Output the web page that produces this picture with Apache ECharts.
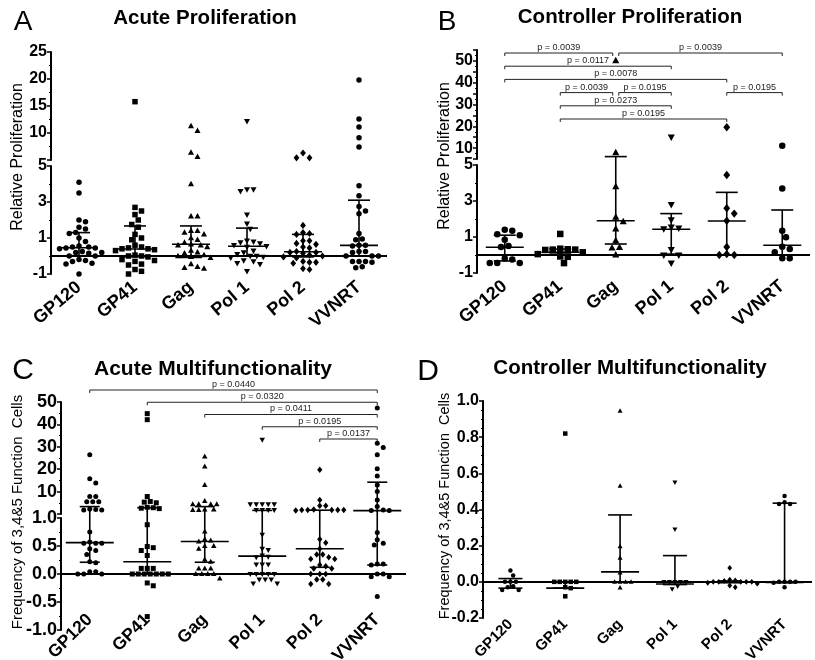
<!DOCTYPE html>
<html>
<head>
<meta charset="utf-8">
<script src="https://cdn.jsdelivr.net/npm/echarts@6/dist/echarts.min.js"></script>
<style>
html,body{margin:0;padding:0;background:#fff}
#chart{width:815px;height:660px}
</style>
</head>
<body>
<div id="chart"></div>
<script>
var FONT = '"Liberation Sans", Arial, Helvetica, sans-serif';
var cats = ['GP120', 'GP41', 'Gag', 'Pol 1', 'Pol 2', 'VVNRT'];
var shapes = ['circle', 'square', 'triangle', 'triangleDown', 'diamond', 'circle'];

// A  Acute Proliferation
var aGP120 = [4.1, 3.5, 2.0, 1.9, 1.6, 1.5, 1.3, 1.25, 1.0, 0.8, 0.55, 0.5, 0.5, 0.45, 0.45, 0.4, 0.25, 0.2, 0.2, 0.15, 0.0, 0.0, -0.2, -0.25, -0.3, -0.4, -0.45, -1.0];
var aGP41 = [15.8, 2.7, 2.5, 2.3, 2.0, 1.75, 1.6, 1.2, 1.0, 0.9, 0.6, 0.5, 0.45, 0.4, 0.4, 0.35, 0.3, 0.05, 0.0, 0.0, -0.05, -0.2, -0.25, -0.3, -0.45, -0.5, -0.75, -0.85, -1.0];
var aGag = [11.3, 10.4, 6.4, 5.6, 4.0, 2.2, 2.2, 1.4, 1.4, 1.3, 1.2, 1.0, 0.9, 0.75, 0.65, 0.6, 0.6, 0.5, 0.3, 0.2, 0.15, 0.05, 0.0, -0.05, -0.1, -0.45, -0.6, -0.65, -0.7];
var aPol1 = [12.2, 3.7, 3.6, 3.7, 2.3, 1.8, 1.5, 0.85, 0.8, 0.75, 0.7, 0.6, 0.55, 0.5, 0.3, 0.2, 0.1, 0.0, 0.0, -0.05, -0.1, -0.25, -0.3, -0.4, -0.45, -0.85];
var aPol2 = [6.3, 5.4, 5.4, 1.7, 1.3, 1.25, 1.2, 0.85, 0.85, 0.7, 0.65, 0.5, 0.45, 0.25, 0.2, 0.2, 0.15, 0.05, 0.0, -0.05, -0.1, -0.3, -0.35, -0.35, -0.4, -0.7, -0.75];
var aVVNRT = [19.8, 12.6, 11.1, 9.1, 7.4, 3.9, 3.35, 2.75, 2.5, 2.35, 1.25, 0.95, 0.9, 0.6, 0.6, 0.55, 0.25, 0.25, 0.2, 0.0, 0.0, 0.0, -0.3, -0.3, -0.35, -0.3, -0.6, -0.65];
var aMed = [0.46, 0.39, 0.65, 0.54, 0.24, 0.59];
var aQ1 = [0.02, -0.04, -0.08, 0.0, -0.05, 0.0];
var aQ3 = [1.3, 1.67, 1.67, 1.55, 1.2, 3.1];

// B  Controller Proliferation
var bGP120 = [1.4, 1.35, 1.15, 1.1, 0.85, 0.5, 0.45, -0.2, -0.25, -0.45, -0.45, -0.45];
var bGP41 = [1.17, 0.35, 0.32, 0.3, 0.28, 0.3, 0.15, 0.05, -0.08, -0.1, -0.45];
var bGag = [50.1, 7.9, 3.8, 2.1, 1.85, 1.45, 0.8, 0.42, 0.4, 0.0];
var bPol1 = [15, 2.8, 1.95, 1.55, 1.5, 1.45, 0.3, 0.0, 0.0, -0.45];
var bPol2 = [19.6, 4.45, 2.6, 2.3, 1.9, 0.45, 0.05, 0.0, 0.0];
var bVVNRT = [11.1, 3.7, 1.35, 0.98, 0.46, 0.33, 0.15, -0.18, -0.18];
var bMed = [0.43, 0.15, 1.9, 1.43, 1.89, 0.54];
var bQ1 = [-0.33, 0.05, 0.61, 0.05, 0.0, 0.0];
var bQ3 = [1.1, 0.33, 6.1, 2.3, 3.48, 2.5];
var bFrom = [0, 2, 0, 0, 1, 2, 4, 1, 1];
var bTo = [2, 5, 3, 4, 2, 3, 5, 3, 4];
var bRow = [0, 0, 1, 2, 3, 3, 3, 4, 5];
var bP = ['p = 0.0039', 'p = 0.0039', 'p = 0.0117', 'p = 0.0078', 'p = 0.0039', 'p = 0.0195', 'p = 0.0195', 'p = 0.0273', 'p = 0.0195'];

// C  Acute Multifunctionality
var cGP120 = [26.4, 15.7, 13.8, 7.8, 7.8, 5.5, 5.5, 5.5, 2.2, 2.0, 1.8, 1.8, 0.75, 0.57, 0.55, 0.55, 0.55, 0.45, 0.42, 0.35, 0.22, 0.2, 0.04, 0.0, 0.0, 0.0, 0.04];
var cGP41 = [44.8, 42.1, 7.8, 5.6, 5.3, 5.0, 3.0, 2.8, 2.6, 2.4, 0.88, 0.49, 0.47, 0.42, 0.33, 0.1, 0.1, 0.1, 0.0, 0.0, 0.0, 0.0, 0.0, 0.0, 0.0, -0.16, -0.21, -0.76];
var cGag = [25.7, 21.2, 13.0, 5.8, 4.4, 4.4, 4.4, 4.4, 2.0, 1.8, 1.8, 2.0, 0.76, 0.62, 0.6, 0.58, 0.5, 0.5, 0.45, 0.26, 0.22, 0.1, 0.1, 0.1, 0.0, 0.0, 0.0, 0.0, -0.08];
var cPol1 = [33.1, 4.4, 4.4, 4.4, 4.4, 4.4, 1.8, 1.8, 1.8, 1.8, 0.7, 0.45, 0.43, 0.33, 0.31, 0.3, 0.17, 0.17, 0.17, 0.0, 0.0, 0.0, 0.0, 0.0, -0.1, -0.1, -0.1, -0.17, -0.17];
var cPol2 = [19.7, 6.3, 3.7, 3.7, 2.0, 1.8, 1.8, 1.8, 1.8, 1.8, 1.6, 0.62, 0.56, 0.45, 0.35, 0.35, 0.3, 0.27, 0.27, 0.16, 0.14, 0.1, 0.1, 0.0, 0.0, 0.0, -0.1, -0.1, -0.18, -0.18];
var cVVNRT = [47.3, 31.6, 29.7, 26.4, 20.2, 17.0, 13.0, 10.0, 6.3, 3.3, 1.8, 1.6, 1.6, 0.74, 0.61, 0.55, 0.52, 0.18, 0.18, 0.16, 0.0, 0.0, -0.05, -0.05, -0.4];
var cMed = [0.56, 0.22, 0.58, 0.32, 0.45, 1.5];
var cQ1 = [0.21, 0.0, 0.21, 0.0, 0.12, 0.16];
var cQ3 = [3.3, 2.8, 3.3, 1.6, 1.7, 14.2];
var cFrom = [0, 1, 2, 3, 4];
var cTo = [5, 5, 5, 5, 5];
var cRow = [0, 1, 2, 3, 4];
var cP = ['p = 0.0440', 'p = 0.0320', 'p = 0.0411', 'p = 0.0195', 'p = 0.0137'];

// D  Controller Multifunctionality
var dGP120 = [0.062, 0.035, 0.0, 0.0, 0.0, -0.025, -0.03, -0.045, -0.045];
var dGP41 = [0.82, 0.0, 0.0, 0.0, 0.0, 0.0, -0.03, -0.035, -0.08];
var dGag = [0.945, 0.53, 0.196, 0.132, 0.05, 0.0, 0.0, 0.0, 0.0, -0.033];
var dPol1 = [0.55, 0.29, 0.0, 0.0, 0.0, 0.0, 0.0, -0.025, -0.04];
var dPol2 = [0.077, 0.012, 0.008, 0.005, 0.0, 0.0, 0.0, 0.0, 0.0, -0.005, -0.01, -0.02, -0.03];
var dVVNRT = [0.475, 0.44, 0.43, 0.43, 0.0, 0.0, 0.0, 0.0, -0.005, -0.03];
var dMed = [0.0, -0.035, 0.055, -0.012, 0.0, -0.003];
var dQ1 = [-0.035, -0.035, 0.0, -0.015, -0.005, -0.005];
var dQ3 = [0.018, 0.0, 0.37, 0.145, 0.005, 0.435];

var panels = [
	{cols: [aGP120, aGP41, aGag, aPol1, aPol2, aVVNRT], med: aMed, q1: aQ1, q3: aQ3, brk: 5, lower: 0, upper: 1, size: 5.5, medW: 19, capW: 11, bridge: 6},
	{cols: [bGP120, bGP41, bGag, bPol1, bPol2, bVVNRT], med: bMed, q1: bQ1, q3: bQ3, brk: 5, lower: 2, upper: 3, size: 6.5, medW: 19, capW: 11, bridge: 6},
	{cols: [cGP120, cGP41, cGag, cPol1, cPol2, cVVNRT], med: cMed, q1: cQ1, q3: cQ3, brk: 1, lower: 5, upper: 6, size: 5, medW: 24, capW: 10, bridge: 7},
	{cols: [dGP120, dGP41, dGag, dPol1, dPol2, dVVNRT], med: dMed, q1: dQ1, q3: dQ3, brk: null, lower: 8, size: 4.5, medW: 19, capW: 12}
];

function mark(kind, x, y, r) {
	var st = {fill: '#000', lineWidth: 0};
	if (kind == 'circle') return {type: 'circle', shape: {cx: x, cy: y, r: r}, style: st};
	if (kind == 'square') return {type: 'rect', shape: {x: x - r, y: y - r, width: 2 * r, height: 2 * r}, style: st};
	if (kind == 'triangle') return {type: 'polygon', shape: {points: [[x, y - r * 1.2], [x + r * 1.1, y + r * 0.8], [x - r * 1.1, y + r * 0.8]]}, style: st};
	if (kind == 'triangleDown') return {type: 'polygon', shape: {points: [[x, y + r * 1.2], [x + r * 1.1, y - r * 0.8], [x - r * 1.1, y - r * 0.8]]}, style: st};
	return {type: 'polygon', shape: {points: [[x, y - r * 1.3], [x + r * 1.05, y], [x, y + r * 1.3], [x - r * 1.05, y]]}, style: st};
}

// spread points of one column sideways so they do not overlap (column scatter)
function swarm(vals, lo, hi, c, api, size) {
	var d = size + 1;
	var idx = [], ys = {}, off = {}, placed = [];
	vals.forEach(function (v, j) {
		if (v > lo && v <= hi) { idx.push(j); ys[j] = api.coord([c, v])[1]; }
	});
	idx.sort(function (a, b) { return ys[a] - ys[b]; });
	idx.forEach(function (j) {
		for (var k = 0; k < 80; k++) {
			var dx = (k % 2 ? 1 : -1) * Math.ceil(k / 2) * d / 2;
			var ok = placed.every(function (p) {
				var ex = p[0] - dx, ey = p[1] - ys[j];
				return ex * ex + ey * ey >= d * d * 0.92;
			});
			if (ok) { off[j] = dx; placed.push([dx, ys[j]]); break; }
		}
	});
	return off;
}

function dotSeries(cols, lo, hi, gi, size) {
	var data = [];
	cols.forEach(function (vals, c) {
		vals.forEach(function (v, j) { if (v > lo && v <= hi) data.push([c, v, j]); });
	});
	var cache = {};
	return {
		type: 'custom', xAxisIndex: gi, yAxisIndex: gi, data: data, silent: true, z: 3,
		renderItem: function (params, api) {
			var c = api.value(0), j = api.value(2);
			if (!cache[c]) cache[c] = swarm(cols[c], lo, hi, c, api, size);
			var p = api.coord([c, api.value(1)]);
			return mark(shapes[c], p[0] + (cache[c][j] || 0), p[1], size / 2);
		}
	};
}

function barSeries(p, lo, hi, gi, bridge) {
	var data = p.med.map(function (m, c) { return [c, m, p.q1[c], p.q3[c]]; });
	return {
		type: 'custom', xAxisIndex: gi, yAxisIndex: gi, data: data, silent: true, z: 4,
		renderItem: function (params, api) {
			var c = api.value(0), m = api.value(1), a = api.value(2), b = api.value(3);
			var x = api.coord([c, m])[0];
			var st = {stroke: '#000', lineWidth: 1.6};
			var kids = [];
			function yOf(v) { return api.coord([c, v])[1]; }
			function h(v, w) { var y = yOf(v); kids.push({type: 'line', shape: {x1: x - w, y1: y, x2: x + w, y2: y}, style: st}); }
			if (m > lo && m <= hi) h(m, p.medW);
			if (a > lo && a <= hi) h(a, p.capW);
			if (b > lo && b <= hi) h(b, p.capW);
			var s = Math.max(a, lo), e = Math.min(b, hi);
			if (e > s) {
				var y1 = yOf(s), y2 = yOf(e);
				if (b > hi) y2 -= bridge;
				kids.push({type: 'line', shape: {x1: x, y1: y1, x2: x, y2: y2}, style: st});
			}
			return {type: 'group', children: kids};
		}
	};
}

function zeroLine(gi) {
	return {
		type: 'scatter', xAxisIndex: gi, yAxisIndex: gi, data: [], silent: true, z: 2,
		markLine: {silent: true, symbol: 'none', animation: false, label: {show: false},
			lineStyle: {color: '#000', width: 2.2, type: 'solid'}, data: [{yAxis: 0}]}
	};
}

function bracketSeries(from, to, row, labels, gi) {
	var data = from.map(function (f, k) { return [f, to[k], row[k], k]; });
	return {
		type: 'custom', xAxisIndex: gi, yAxisIndex: gi, data: data, silent: true, z: 5,
		renderItem: function (params, api) {
			var k = api.value(3), f = from[k], t = to[k], r = row[k];
			var p1 = api.coord([f, r]), p2 = api.coord([t, r]);
			var x1 = p1[0], x2 = p2[0], y = p1[1];
			from.forEach(function (f2, m) {
				if (m != k && row[m] == r) {
					if (to[m] == f) x1 += 3;
					if (f2 == t) x2 -= 3;
				}
			});
			return {type: 'group', children: [
				{type: 'polyline', shape: {points: [[x1, y + 3], [x1, y], [x2, y], [x2, y + 3]]},
					style: {stroke: '#222', lineWidth: 1, fill: 'none'}},
				{type: 'text', x: (x1 + x2) / 2, y: y - 1,
					style: {text: labels[k], fill: '#222', font: '9px ' + FONT, align: 'center', verticalAlign: 'bottom'}}
			]};
		}
	};
}

var grids = [
	{left: 51, top: 166, width: 336, height: 108},
	{left: 51, top: 52, width: 336, height: 108},
	{left: 477, top: 165, width: 333, height: 108},
	{left: 477, top: 50, width: 333, height: 109},
	{left: 477, top: 53, width: 333, height: 66},
	{left: 61, top: 518, width: 345, height: 112},
	{left: 61, top: 402, width: 345, height: 112},
	{left: 61, top: 390, width: 345, height: 49},
	{left: 483, top: 401, width: 329, height: 217}
];
grids.forEach(function (g) { g.containLabel = false; g.outerBoundsMode = 'none'; });

function catAxis(gi, show, fs, margin, rot) {
	return {
		type: 'category', gridIndex: gi, data: cats, show: show,
		axisLine: {show: false}, axisTick: {show: false}, splitLine: {show: false},
		axisLabel: {rotate: rot, interval: 0, color: '#000', fontWeight: 'bold', fontSize: fs, fontFamily: FONT, margin: margin}
	};
}
function valAxis(gi, min, max, interval, fs, fmt, minor) {
	return {
		type: 'value', gridIndex: gi, min: min, max: max, interval: interval,
		axisLine: {show: true, lineStyle: {color: '#000', width: 2}},
		axisTick: {show: true, length: 4, lineStyle: {color: '#000', width: 1.5}},
		minorTick: {show: true, splitNumber: minor, length: 2, lineStyle: {color: '#000', width: 1}},
		splitLine: {show: false},
		axisLabel: {color: '#000', fontWeight: 'bold', fontSize: fs, fontFamily: FONT, margin: 4, formatter: fmt}
	};
}
function hidX(gi) { return {type: 'value', gridIndex: gi, min: -0.5, max: 5.5, show: false}; }
function hidY(gi, rows) { return {type: 'value', gridIndex: gi, min: 0, max: rows, inverse: true, show: false}; }

var intFmt = function (v) { return String(Math.round(v)); };
var fix1 = function (v) { return v.toFixed(1); };

var xAxes = [
	catAxis(0, true, 18, 11, 40), catAxis(1, false, 18, 8, 40),
	catAxis(2, true, 18, 11, 40), catAxis(3, false, 18, 8, 40), hidX(4),
	catAxis(5, true, 17.5, -13, 45), catAxis(6, false, 17, 8, 45), hidX(7),
	catAxis(8, true, 15, 4, 45)
];
var yAxes = [
	valAxis(0, -1, 5, 2, 16, intFmt, 2),
	valAxis(1, 5, 25, 5, 16, function (v) { return v > 5 ? String(v) : ''; }, 2),
	valAxis(2, -1, 5, 2, 16, intFmt, 2),
	valAxis(3, 5, 55, 5, 16, function (v) { return (v % 10 == 0 && v >= 10 && v <= 50) ? String(v) : ''; }, 2),
	hidY(4, 5),
	valAxis(5, -1, 1, 0.5, 18, fix1, 2),
	valAxis(6, 0, 50, 10, 18, function (v) { return v > 0 ? String(v) : ''; }, 2),
	hidY(7, 4),
	valAxis(8, -0.2, 1, 0.2, 16, fix1, 4)
];

var series = [];
panels.forEach(function (p) {
	if (p.brk === null) {
		series.push(dotSeries(p.cols, -Infinity, Infinity, p.lower, p.size));
		series.push(barSeries(p, -Infinity, Infinity, p.lower, 0));
	} else {
		series.push(dotSeries(p.cols, -Infinity, p.brk, p.lower, p.size));
		series.push(dotSeries(p.cols, p.brk, Infinity, p.upper, p.size));
		series.push(barSeries(p, -Infinity, p.brk, p.lower, p.bridge));
		series.push(barSeries(p, p.brk, Infinity, p.upper, 0));
	}
	series.push(zeroLine(p.lower));
});
series.push(bracketSeries(bFrom, bTo, bRow, bP, 4));
series.push(bracketSeries(cFrom, cTo, cRow, cP, 7));

function txt(x, y, s, font, rot) {
	return {type: 'text', x: x, y: y, rotation: rot || 0, silent: true,
		style: {text: s, font: font, fill: '#000', align: 'center', verticalAlign: 'middle'}};
}
var graphics = [
	txt(23, 22, 'A', '28px ' + FONT), txt(205, 18, 'Acute Proliferation', 'bold 20.5px ' + FONT),
	txt(447, 22, 'B', '28px ' + FONT), txt(630, 17, 'Controller Proliferation', 'bold 20.5px ' + FONT),
	txt(23, 371, 'C', '30px ' + FONT), txt(213, 369, 'Acute Multifunctionality', 'bold 21px ' + FONT),
	txt(428, 372, 'D', '30px ' + FONT), txt(630, 368, 'Controller Multifunctionality', 'bold 20.5px ' + FONT),
	txt(18, 157, 'Relative Proliferation', '16px ' + FONT, Math.PI / 2),
	txt(445, 156, 'Relative Proliferation', '16px ' + FONT, Math.PI / 2),
	txt(18, 512, 'Frequency of 3,4&5 Function  Cells', '15px ' + FONT, Math.PI / 2),
	txt(445, 506, 'Frequency of 3,4&5 Function  Cells', '14.5px ' + FONT, Math.PI / 2)
];

var chart = echarts.init(document.getElementById('chart'));
chart.setOption({
	animation: false,
	backgroundColor: '#fff',
	grid: grids,
	xAxis: xAxes,
	yAxis: yAxes,
	graphic: graphics,
	series: series
});
</script>
</body>
</html>
